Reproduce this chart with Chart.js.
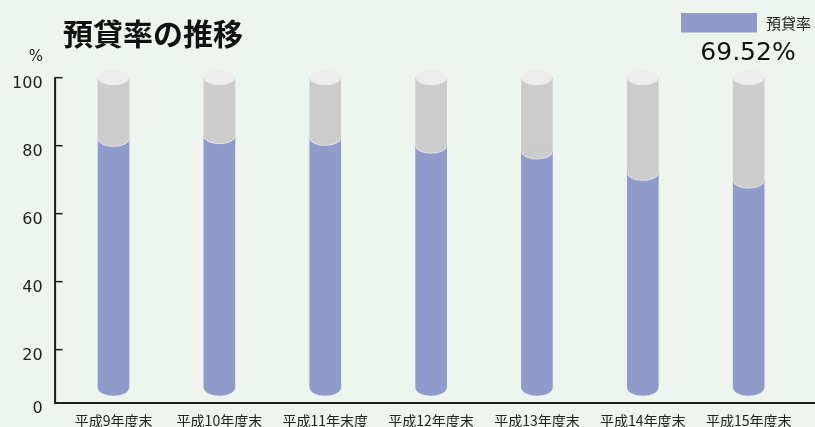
<!DOCTYPE html>
<html lang="ja">
<head>
  <meta charset="UTF-8" />
  <title>預貸率の推移</title>
  <script src="https://cdn.jsdelivr.net/npm/chart.js@4.4.1/dist/chart.umd.min.js"></script>
  <style>
    html, body { margin: 0; padding: 0; background: #eef5ee; }
    #chart { display: block; }
  </style>
</head>
<body>
  <canvas id="chart" width="815" height="427"></canvas>

  <script>
    // data
    const categories = ["平成9年度末", "平成10年度末", "平成11年末度", "平成12年度末", "平成13年度末", "平成14年度末", "平成15年度末"];
    const loanRatio = [81.8, 82.6, 82.1, 79.8, 78.1, 71.8, 69.52];
    const latestLabel = "69.52%";
    const seriesName = "預貸率";
    const yTickValues = [4.3, 20, 40, 60, 80, 100];
    const yTickLabels = ["0", "20", "40", "60", "80", "100"];
    const axisFloor = 4.3;   // where the "0" axis line sits on the scale
    const cylinderBase = 8.7; // bottom of each cylinder
    const cylinderTop = 100;

    const BLUE = "#8f9bcb";
    const GREY = "#cccccc";
    const CAP = "#ededed";
    const INK = "#1a1a1a";

    // cylinder caps, axes and header texts
    const cylinderPlugin = {
      id: "cylinders",
      afterDatasetsDraw(chart) {
        const ctx = chart.ctx;
        const y = chart.scales.y;
        const blueMeta = chart.getDatasetMeta(0);
        const ry = 7.6;
        ctx.save();
        blueMeta.data.forEach((bar, i) => {
          const rx = bar.width / 2;
          const cx = bar.x;
          const level = y.getPixelForValue(loanRatio[i]);
          // rounded bottom
          ctx.fillStyle = BLUE;
          ctx.beginPath();
          ctx.ellipse(cx, y.getPixelForValue(cylinderBase), rx, ry, 0, 0, Math.PI);
          ctx.fill();
          // grey lower edge over the fill level (also hides the seam)
          ctx.fillStyle = GREY;
          ctx.beginPath();
          ctx.moveTo(cx - rx, level - 1);
          ctx.lineTo(cx + rx, level - 1);
          ctx.ellipse(cx, level, rx, ry * 0.9, 0, 0, Math.PI);
          ctx.closePath();
          ctx.fill();
          ctx.strokeStyle = "rgba(235,235,240,0.8)";
          ctx.lineWidth = 1;
          ctx.beginPath();
          ctx.ellipse(cx, level, rx - 0.5, ry * 0.9, 0, 0, Math.PI);
          ctx.stroke();
          // top cap
          ctx.fillStyle = CAP;
          ctx.beginPath();
          ctx.ellipse(cx, y.getPixelForValue(cylinderTop), rx, ry, 0, 0, Math.PI * 2);
          ctx.fill();
        });
        ctx.restore();
      },
      afterDraw(chart) {
        const ctx = chart.ctx;
        const y = chart.scales.y;
        const area = chart.chartArea;
        const axisX = area.left - 5.5;
        const axisY = y.getPixelForValue(axisFloor);
        ctx.save();
        ctx.strokeStyle = INK;
        ctx.lineWidth = 2;
        ctx.beginPath();
        ctx.moveTo(axisX, y.getPixelForValue(100) - 0.5);
        ctx.lineTo(axisX, axisY);
        ctx.lineTo(chart.width, axisY);
        ctx.stroke();
        ctx.lineWidth = 1.5;
        yTickValues.slice(1).forEach(v => {
          const py = y.getPixelForValue(v);
          ctx.beginPath();
          ctx.moveTo(axisX, py);
          ctx.lineTo(axisX + 7.5, py);
          ctx.stroke();
        });

        // title
        ctx.fillStyle = "#111";
        ctx.textBaseline = "middle";
        ctx.textAlign = "left";
        ctx.font = "bold 30px 'Noto Sans CJK JP'";
        ctx.fillText("預貸率の推移", 63, 34);

        // unit
        ctx.font = "15px 'DejaVu Sans'";
        ctx.textAlign = "center";
        ctx.fillStyle = "#222";
        ctx.fillText("%", 36, 57);

        // legend
        ctx.fillStyle = BLUE;
        ctx.fillRect(681, 13, 76, 19.5);
        ctx.fillStyle = "#222";
        ctx.textAlign = "left";
        ctx.font = "15px 'Noto Sans CJK JP'";
        ctx.fillText(seriesName, 766, 23);

        // latest value
        ctx.fillStyle = "#111";
        ctx.textAlign = "center";
        ctx.font = "25px 'DejaVu Sans'";
        ctx.fillText(latestLabel, 748, 53);
        ctx.restore();
      }
    };

    const chart = new Chart(document.getElementById("chart").getContext("2d"), {
      type: "bar",
      data: {
        labels: categories,
        datasets: [
          {
            label: seriesName,
            data: loanRatio.map(v => [cylinderBase, v]),
            backgroundColor: BLUE,
            barThickness: 31,
            grouped: false,
            borderWidth: 0,
          },
          {
            label: "",
            data: loanRatio.map(v => [v, cylinderTop]),
            backgroundColor: GREY,
            barThickness: 31,
            grouped: false,
            borderWidth: 0,
          },
        ],
      },
      options: {
        responsive: false,
        animation: false,
        events: [],
        layout: { padding: { top: 77.7, right: 13.4, bottom: 0, left: 0 } },
        plugins: {
          legend: { display: false },
          title: { display: false },
          tooltip: { enabled: false },
        },
        scales: {
          x: {
            offset: true,
            grid: { display: false, drawTicks: false },
            border: { display: false },
            ticks: {
              maxRotation: 0,
              autoSkip: false,
              padding: 9,
              color: "#222",
              font: { family: "'Noto Sans CJK JP'", size: 14 },
            },
            afterFit: (s) => { s.height = 24; },
          },
          y: {
            min: axisFloor,
            max: 100,
            grid: { display: false, drawTicks: false },
            border: { display: false },
            afterBuildTicks: (s) => { s.ticks = yTickValues.map(v => ({ value: v })); },
            ticks: {
              padding: 18,
              labelOffset: 6,
              color: "#222",
              font: { family: "'DejaVu Sans'", size: 16 },
              callback: (v, i) => yTickLabels[i],
            },
            afterFit: (s) => {
              s.width = 60.6;
              s.paddingTop = 0;
              s.paddingBottom = 0;
            },
          },
        },
      },
      plugins: [cylinderPlugin],
    });
  </script>
</body>
</html>
